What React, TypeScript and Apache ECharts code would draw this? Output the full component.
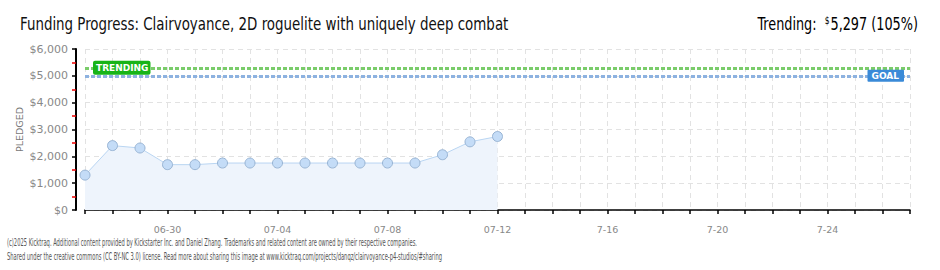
import React, { useEffect, useRef } from "react";
import * as echarts from "echarts";

const titleText = "Funding Progress: Clairvoyance, 2D roguelite with uniquely deep combat";
const trendingValue = 5297;
const trendingPct = "105%";
const goalValue = 5000;

const dates = [
  "06-27", "06-28", "06-29", "06-30", "07-01", "07-02", "07-03", "07-04",
  "07-05", "07-06", "07-07", "07-08", "07-09", "07-10", "07-11", "07-12",
  "07-13", "07-14", "07-15", "07-16", "07-17", "07-18", "07-19", "07-20",
  "07-21", "07-22", "07-23", "07-24", "07-25", "07-26", "07-27",
];
const tickLabels: Record<string, string> = {
  "06-30": "06-30",
  "07-04": "07-04",
  "07-08": "07-08",
  "07-12": "07-12",
  "07-16": "7-16",
  "07-20": "7-20",
  "07-24": "7-24",
};
const pledged = [
  1300, 2400, 2310, 1690, 1690, 1750, 1750, 1750, 1750, 1750, 1750, 1750,
  1750, 2060, 2540, 2740,
];
const footerLines = [
  "(c)2025 Kicktraq. Additional content provided by Kickstarter Inc. and Daniel Zhang. Trademarks and related content are owned by their respective companies.",
  "Shared under the creative commons (CC BY-NC 3.0) license. Read more about sharing this image at www.kicktraq.com/projects/danqz/clairvoyance-p4-studios/#sharing",
];

const FONT = "'DejaVu Sans', sans-serif";
const NARROW = "'Liberation Sans Narrow', 'DejaVu Sans Condensed', sans-serif";

export default function App() {
  const ref = useRef<HTMLDivElement>(null);
  useEffect(() => {
    if (!ref.current) return;
    const chart = echarts.init(ref.current, undefined, { renderer: "svg" });
    const fmtMoney = (v: number) => "$" + v.toLocaleString("en-US");
    chart.setOption({
      animation: false,
      backgroundColor: "#ffffff",
      graphic: [
        {
          type: "text",
          x: 20,
          y: 24,
          scaleX: 0.877,
          style: {
            text: titleText,
            fontFamily: NARROW,
            fontSize: 17,
            fill: "#111",
            textAlign: "left",
            textVerticalAlign: "middle",
          },
        },
        {
          type: "text",
          x: 918,
          y: 24,
          scaleX: 0.84,
          style: {
            text: "{a|Trending:  }{s|$}{b|" + trendingValue.toLocaleString("en-US") + " (" + trendingPct + ")}",
            textAlign: "right",
            textVerticalAlign: "middle",
            rich: {
              a: { fontFamily: NARROW, fontSize: 17, color: "#111" },
              s: { fontFamily: NARROW, fontSize: 10, color: "#111", verticalAlign: "top", padding: [0, 1, 7, 0] },
              b: { fontFamily: NARROW, fontSize: 17, color: "#111" },
            },
          },
        },
        ...footerLines.map((t, i) => ({
          type: "text",
          x: 7,
          y: 242.5 + i * 13.4,
          scaleX: 0.575,
          style: {
            text: t,
            fontFamily: NARROW,
            fontSize: 10,
            fill: "#555",
            textAlign: "left",
            textVerticalAlign: "middle",
          },
        })),
      ],
      grid: { left: 85, right: 30, top: 49, bottom: 60 },
      xAxis: {
        type: "category",
        data: dates,
        boundaryGap: false,
        offset: 9,
        axisLine: { show: true, lineStyle: { color: "#000", width: 1.5 } },
        axisTick: { show: true, interval: 0, length: 4, lineStyle: { color: "#000", width: 1.5 } },
        axisLabel: {
          interval: 0,
          formatter: (v: string) => tickLabels[v] || "",
          color: "#888",
          fontFamily: FONT,
          fontSize: 9.5,
          margin: 5,
        },
        splitLine: { show: true, interval: 0, lineStyle: { color: "#e2e2e2", type: [5, 4] } },
      },
      yAxis: {
        type: "value",
        min: 0,
        max: 6000,
        interval: 1000,
        offset: 9,
        name: "PLEDGED",
        nameLocation: "middle",
        nameGap: 52,
        nameMoveOverlap: false,
        nameTextStyle: { color: "#777", fontFamily: FONT, fontSize: 9.5 },
        axisLine: { show: true, lineStyle: { color: "#000", width: 2 } },
        axisTick: { show: true, length: 4, lineStyle: { color: "#000", width: 1.5 } },
        minorTick: { show: true, splitNumber: 2, length: 4, lineStyle: { color: "#e00", width: 1.5 } },
        axisLabel: {
          formatter: (v: number) => fmtMoney(v),
          color: "#888",
          fontFamily: FONT,
          fontSize: 11,
          margin: 8,
        },
        splitLine: { show: true, lineStyle: { color: "#e2e2e2", type: [5, 4] } },
      },
      series: [
        {
          type: "line",
          data: pledged,
          symbol: "circle",
          symbolSize: 10,
          lineStyle: { color: "#b9d5f2", width: 1 },
          itemStyle: { color: "#c4dcf7", borderColor: "#98b4d4", borderWidth: 1 },
          areaStyle: { color: "#eef4fc", opacity: 1 },
          z: 3,
          markLine: {
            symbol: "none",
            silent: true,
            z: 4,
            data: [
              {
                yAxis: trendingValue,
                lineStyle: { color: "#7acc6a", width: 3, type: [4, 2] },
                label: {
                  show: true,
                  position: "insideStartTop",
                  formatter: "TRENDING",
                  color: "#fff",
                  backgroundColor: "#17b417",
                  fontFamily: FONT,
                  fontWeight: "bold",
                  fontSize: 9,
                  padding: [3, 2, 2, 3],
                  borderRadius: 2,
                  distance: [8, -7],
                },
              },
              {
                yAxis: goalValue,
                lineStyle: { color: "#8db2e0", width: 3, type: [4, 2] },
                label: {
                  show: true,
                  position: "insideEndTop",
                  formatter: "GOAL",
                  color: "#fff",
                  backgroundColor: "#3a8ad8",
                  fontFamily: FONT,
                  fontWeight: "bold",
                  fontSize: 9,
                  padding: [2, 5, 1, 4],
                  borderRadius: 1,
                  distance: [6, -6],
                },
              },
            ],
          },
        },
      ],
    });
    return () => chart.dispose();
  }, []);
  return (
    <div
      style={{
        position: "fixed",
        left: 0,
        top: 0,
        width: 940,
        height: 270,
        boxSizing: "border-box",
        borderTop: "1px solid #888",
        borderLeft: "1px solid #888",
        borderRight: "2px solid #777",
        borderBottom: "2px solid #777",
        background: "#fff",
      }}
    >
      <div ref={ref} style={{ position: "absolute", left: -1, top: -1, width: 940, height: 270 }} />
    </div>
  );
}
